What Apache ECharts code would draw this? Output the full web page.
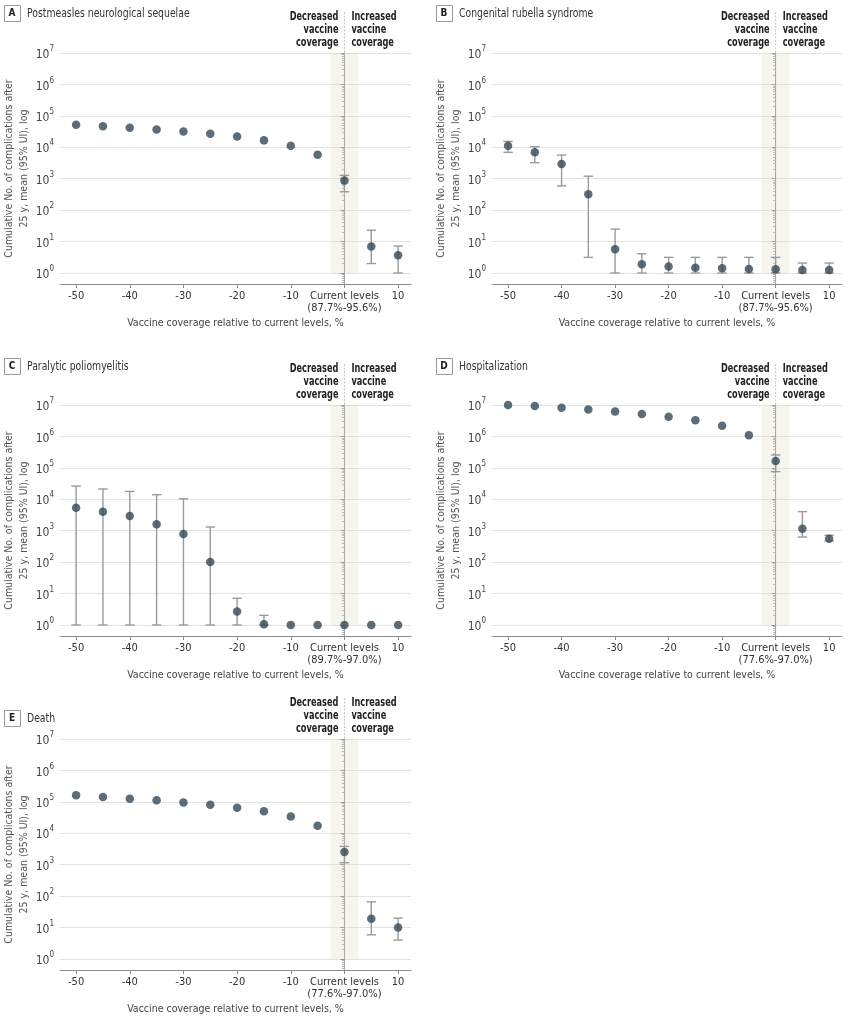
<!DOCTYPE html>
<html><head><meta charset="utf-8">
<script src="https://cdn.jsdelivr.net/npm/echarts@6/dist/echarts.min.js"></script>
<style>html,body{margin:0;padding:0;background:#fff}#c{width:848px;height:1022px}</style>
</head><body><div id="c"></div><script>
const FONT = '"Liberation Sans Narrow","DejaVu Sans Condensed",sans-serif';

// ---- data ----
const coverage = [-50, -45, -40, -35, -30, -25, -20, -15, -10, -5, 0, 5, 10];
const xTickValues = [-50, -40, -30, -20, -10, 0, 10];

const measlesMean = [52000, 46500, 42000, 37000, 32000, 27000, 22000, 16600, 11200, 5800, 870, 7.0, 3.7];
const measlesLow  = [null, null, null, null, null, null, null, null, null, null, 385, 2.0, 1.0];
const measlesHigh = [null, null, null, null, null, null, null, null, null, null, 1280, 23, 7.2];

const rubellaMean = [11200, 6900, 2940, 318, 5.7, 1.9, 1.6, 1.48, 1.41, 1.34, 1.31, 1.25, 1.25];
const rubellaLow  = [6900, 3240, 590, 3.15, 1.0, 1.0, 1.0, 1.0, 1.0, 1.0, 1.0, 1.0, 1.0];
const rubellaHigh = [15400, 10400, 5650, 1200, 25, 4.1, 3.15, 3.15, 3.15, 3.15, 3.15, 2.08, 2.08];

const polioMean = [5400, 4040, 2940, 1620, 790, 101, 2.7, 1.05, 1, 1, 1, 1, 1];
const polioLow  = [1, 1, 1, 1, 1, 1, 1, 1, null, null, null, null, null];
const polioHigh = [26400, 21300, 17800, 14000, 10400, 1310, 7.1, 2.03, null, null, null, null, null];

const hospMean = [1.0e7, 9.3e6, 8.2e6, 7.2e6, 6.2e6, 5.2e6, 4.25e6, 3.25e6, 2.2e6, 1.1e6, 166000, 1160, 560];
const hospLow  = [null, null, null, null, null, null, null, null, null, null, 76000, 630, 470];
const hospHigh = [null, null, null, null, null, null, null, null, null, null, 257000, 4050, 710];

const deathMean = [162000, 142000, 126000, 112000, 96000, 81000, 65000, 50000, 34000, 17400, 2520, 19.2, 10];
const deathLow  = [null, null, null, null, null, null, null, null, null, null, 1160, 5.9, 4.0];
const deathHigh = [null, null, null, null, null, null, null, null, null, null, 3830, 66, 20];

const panelLetters = ['A', 'B', 'C', 'D', 'E'];
const panelTitles = ['Postmeasles neurological sequelae', 'Congenital rubella syndrome', 'Paralytic poliomyelitis', 'Hospitalization', 'Death'];
const currentRanges = ['(87.7%-95.6%)', '(87.7%-95.6%)', '(89.7%-97.0%)', '(77.6%-97.0%)', '(77.6%-97.0%)'];
const means = [measlesMean, rubellaMean, polioMean, hospMean, deathMean];
const lows = [measlesLow, rubellaLow, polioLow, hospLow, deathLow];
const highs = [measlesHigh, rubellaHigh, polioHigh, hospHigh, deathHigh];

const xAxisTitle = 'Vaccine coverage relative to current levels, %';
const yAxisTitle = 'Cumulative No. of complications after\n25 y, mean (95% UI), log';
const decreasedText = 'Decreased\nvaccine\ncoverage';
const increasedText = 'Increased\nvaccine\ncoverage';

// ---- layout ----
const grids = [
  { left: 60, top: 53, width: 351, height: 231 },
  { left: 492, top: 53, width: 350, height: 231 },
  { left: 60, top: 405, width: 351, height: 231 },
  { left: 492, top: 405, width: 350, height: 231 },
  { left: 60, top: 739, width: 351, height: 231 }
];
const titlePos = [[4, 5], [436, 5], [4, 358], [436, 358], [4, 710]];
const X_MIN = -53, X_MAX = 12.4, Y_MIN = 0.447, Y_MAX = 1e7, BAND = 2.6;
const AXIS_COLOR = '#8c8c8c';
const DOT_COLOR = '#2f4a58';
const FS = 10.5;

const option = { animation: false, grid: [], xAxis: [], yAxis: [], series: [], graphic: [] };

grids.forEach((g, i) => {
  option.grid.push({ left: g.left, top: g.top, width: g.width, height: g.height, containLabel: false });
  option.xAxis.push({
    gridIndex: i, type: 'value', min: X_MIN, max: X_MAX,
    axisLine: { show: true, onZero: false, lineStyle: { color: AXIS_COLOR } },
    axisTick: { show: true, customValues: xTickValues, length: 4, lineStyle: { color: AXIS_COLOR } },
    axisLabel: {
      customValues: xTickValues, margin: 6, color: '#333', fontSize: 11, lineHeight: 12, fontFamily: FONT,
      formatter: v => v === 0 ? 'Current levels\n' + currentRanges[i] : String(v)
    },
    splitLine: { show: false },
    name: xAxisTitle, nameLocation: 'middle', nameGap: 34,
    nameTextStyle: { color: '#444', fontSize: FS, fontFamily: FONT }
  });
  option.yAxis.push({
    gridIndex: i, type: 'log', logBase: 10, min: Y_MIN, max: Y_MAX,
    axisLine: { show: true, lineStyle: { color: AXIS_COLOR } },
    axisTick: { show: true, length: 4, lineStyle: { color: AXIS_COLOR } },
    minorTick: { show: true, splitNumber: 9, length: 2.5, lineStyle: { color: '#b0b0b0' } },
    axisLabel: {
      margin: 6, color: '#444', fontFamily: FONT,
      formatter: v => {
        const e = Math.log10(v), r = Math.round(e);
        if (Math.abs(e - r) > 1e-6) return '';
        return '{b|10}{s|' + r + '}';
      },
      rich: {
        b: { fontSize: 12, lineHeight: 16, fontFamily: FONT, color: '#444', verticalAlign: 'bottom' },
        s: { fontSize: 8, lineHeight: 16, fontFamily: FONT, color: '#444', verticalAlign: 'top' }
      }
    },
    splitLine: { show: true, lineStyle: { color: '#e2e2e2', width: 1 } },
    name: yAxisTitle, nameLocation: 'middle', nameGap: 18, nameRotate: 90,
    nameTextStyle: { color: '#555', fontSize: FS, lineHeight: 15, fontFamily: FONT, align: 'center' }
  });

  // band, current-level line and header texts
  option.series.push({
    type: 'custom', xAxisIndex: i, yAxisIndex: i, z: 1, silent: true,
    data: [[0]],
    renderItem: (params, api) => {
      const cs = params.coordSys;
      const p0 = api.coord([-BAND, Y_MAX]);
      const p1 = api.coord([BAND, 1]);
      const x0 = api.coord([0, 1])[0];
      const tf = 'bold 12px ' + FONT;
      return {
        type: 'group', children: [
          { type: 'rect', shape: { x: p0[0], y: p0[1], width: p1[0] - p0[0], height: p1[1] - p0[1] },
            style: { fill: 'rgba(220,220,190,0.28)' } },
          { type: 'line', shape: { x1: x0, y1: cs.y - 41, x2: x0, y2: cs.y },
            style: { stroke: '#c4c4c4', lineWidth: 1, lineDash: [2, 1.5] } },
          { type: 'line', shape: { x1: x0, y1: cs.y, x2: x0, y2: cs.y + cs.height },
            style: { stroke: '#acacac', lineWidth: 1, lineDash: [3, 1] } },
          { type: 'text', x: x0 - 6, y: cs.y - 42, scaleX: 0.76,
            style: { text: decreasedText, align: 'right', verticalAlign: 'top', font: tf, lineHeight: 12.7, fill: '#222' } },
          { type: 'text', x: x0 + 7, y: cs.y - 42, scaleX: 0.76,
            style: { text: increasedText, align: 'left', verticalAlign: 'top', font: tf, lineHeight: 12.7, fill: '#222' } }
        ]
      };
    }
  });

  // error bars
  const errData = [];
  coverage.forEach((x, k) => {
    if (lows[i][k] != null && highs[i][k] != null) errData.push([x, lows[i][k], highs[i][k]]);
  });
  option.series.push({
    type: 'custom', xAxisIndex: i, yAxisIndex: i, z: 2, silent: true,
    data: errData,
    renderItem: (params, api) => {
      const lo = api.coord([api.value(0), api.value(1)]);
      const hi = api.coord([api.value(0), api.value(2)]);
      const w = 4.7;
      const st = { stroke: '#9a9a9a', lineWidth: 1.4 };
      return {
        type: 'group', children: [
          { type: 'line', shape: { x1: lo[0], y1: lo[1], x2: hi[0], y2: hi[1] }, style: st },
          { type: 'line', shape: { x1: lo[0] - w, y1: lo[1], x2: lo[0] + w, y2: lo[1] }, style: st },
          { type: 'line', shape: { x1: hi[0] - w, y1: hi[1], x2: hi[0] + w, y2: hi[1] }, style: st }
        ]
      };
    }
  });

  // mean points
  option.series.push({
    type: 'scatter', xAxisIndex: i, yAxisIndex: i, z: 3, silent: true, clip: false,
    symbol: 'circle', symbolSize: 8.5,
    itemStyle: { color: DOT_COLOR },
    data: coverage.map((x, k) => [x, means[i][k]])
  });

  // panel letter box and title
  const [tx, ty] = titlePos[i];
  option.graphic.push(
    { type: 'rect', left: tx, top: ty, shape: { width: 16, height: 16 },
      style: { fill: '#fff', stroke: '#9a9a9a', lineWidth: 1 } },
    { type: 'text', x: tx + 8, y: ty + 8.5,
      style: { text: panelLetters[i], align: 'center', verticalAlign: 'middle', font: 'bold 10px ' + FONT, fill: '#222' } },
    { type: 'text', x: tx + 23, y: ty + 8.5, scaleX: 0.86,
      style: { text: panelTitles[i], align: 'left', verticalAlign: 'middle', font: '12px ' + FONT, fill: '#333' } }
  );
});

const chart = echarts.init(document.getElementById('c'), null, { renderer: 'canvas' });
chart.setOption(option);
</script></body></html>
